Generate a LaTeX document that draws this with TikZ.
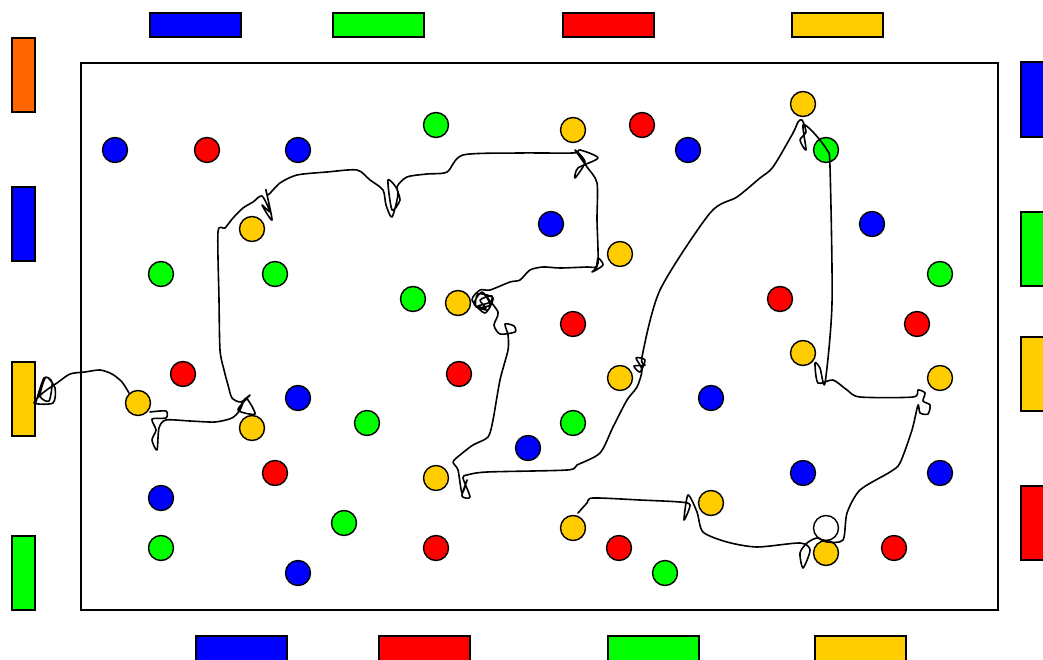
\documentclass[tikz,border=0pt]{standalone}
\usepackage{tikz}
\definecolor{ballyellow}{HTML}{FFCC00}
\definecolor{goalorange}{HTML}{FF6600}

\begin{document}
\begin{tikzpicture}[
  x=1pt, y=-1pt,
  ball/.style={circle, draw, line width=1.4pt, minimum size=25pt, inner sep=0pt},
  bar/.style={draw, line width=1.4pt},
  track/.style={line width=1.6pt, line join=round, line cap=round},
  arena/.style={draw, line width=1.8pt}
]
  \useasboundingbox (0,0) rectangle (1043,660);

  % arena
  \draw[arena] (81,63) rectangle (998,610);

  % goal bars
  \draw[bar, fill=blue]       (150,13) rectangle (241,37);
  \draw[bar, fill=green]      (333,13) rectangle (424,37);
  \draw[bar, fill=red]        (563,13) rectangle (654,37);
  \draw[bar, fill=ballyellow] (792,13) rectangle (883,37);
  \draw[bar, fill=blue]       (196,636) rectangle (287,664);
  \draw[bar, fill=red]        (379,636) rectangle (470,664);
  \draw[bar, fill=green]      (608,636) rectangle (699,664);
  \draw[bar, fill=ballyellow] (815,636) rectangle (906,664);
  \draw[bar, fill=goalorange] (12,38) rectangle (35,112);
  \draw[bar, fill=blue]       (12,187) rectangle (35,261);
  \draw[bar, fill=ballyellow] (12,362) rectangle (35,436);
  \draw[bar, fill=green]      (12,536) rectangle (35,610);
  \draw[bar, fill=blue]       (1021,62) rectangle (1048,137);
  \draw[bar, fill=green]      (1021,212) rectangle (1048,286);
  \draw[bar, fill=ballyellow] (1021,337) rectangle (1048,411);
  \draw[bar, fill=red]        (1021,486) rectangle (1048,560);

  % balls
  \foreach \x/\y/\c [count=\i] in {
      115/150/blue, 207/150/red, 298/150/blue, 436/125/green,
      573/130/ballyellow, 642/125/red, 688/150/blue, 803/104/ballyellow,
      252/229/ballyellow, 551/224/blue, 872/224/blue, 620/254/ballyellow,
      161/274/green, 275/274/green, 413/299/green, 458/303/ballyellow,
      573/324/red, 780/299/red, 940/274/green, 917/324/red,
      183/374/red, 459/374/red, 620/378/ballyellow, 803/353/ballyellow,
      940/378/ballyellow, 138/403/ballyellow, 298/398/blue, 252/428/ballyellow,
      367/423/green, 573/423/green, 711/398/blue, 275/473/red,
      528/448/blue, 436/478/ballyellow, 803/473/blue, 940/473/blue,
      161/498/blue, 711/503/ballyellow, 826/528/white, 344/523/green,
      573/528/ballyellow, 161/548/green, 436/548/red, 619/548/red,
      826/553/ballyellow, 894/548/red, 298/573/blue, 665/573/green}
    \node[ball, fill=\c] (b\i) at (\x,\y) {};
  \node[ball, fill=green] (bg) at (826,150) {};

  % robot track
  \draw[track] plot[smooth, tension=0.45] coordinates {
    (36,402) (44,378) (52,382) (49,401) (40,396) (46,377) (55,388) (53,403)
    (34,403) (44,392) (57,383) (70,374) (85,372) (100,370) (112,374)
    (122,382) (129,393)};
  \draw[track] plot[smooth, tension=0.45] coordinates {
    (150,412) (166,411) (166,418) (152,419) (156,430) (152,440) (157,450)
    (159,428) (166,420) (190,421) (215,422) (232,418) (240,410) (246,398)
    (255,414) (238,410) (250,395) (241,402) (232,398) (228,385) (224,370)
    (220,350) (219,300) (218,232) (225,228) (233,218) (243,208) (253,202)
    (262,196) (270,212) (262,205) (272,220) (266,190) (268,195) (280,183)
    (297,175) (327,172) (357,170) (370,180) (383,190) (386,205) (392,217)
    (398,192) (388,180) (392,210) (400,200) (397,187) (407,177) (427,174)
    (447,172) (463,155) (520,153) (573,153) (580,150) (598,158) (578,168)
    (575,178) (585,162) (575,150) (587,167) (597,183) (597,220) (598,263)
    (592,272) (603,265) (598,258) (596,267) (587,267) (560,268) (543,267)
    (530,270) (520,280) (510,282) (490,290) (480,290) (472,300) (485,313)
    (493,298) (478,294) (476,307) (490,305) (482,292) (474,304) (488,310)
    (492,296) (480,300) (486,308) (478,306) (490,302) (484,294)
    (498,312) (494,325) (500,334)
    (515,332) (514,326) (505,324) (508,335) (508,350) (500,380) (493,420)
    (488,437) (473,445) (460,455) (453,462) (458,470) (462,493) (467,480)
    (462,496) (470,497) (463,478) (467,475) (487,472) (567,470) (577,465)
    (600,453) (613,427) (627,400) (637,387) (642,370) (636,358) (645,360)
    (640,372) (634,366) (645,365) (642,357) (660,290) (710,213) (737,197)
    (760,178) (773,167) (793,133) (798,122) (802,120) (806,132) (800,140)
    (806,150) (803,125) (813,132) (827,150) (830,167) (832,303) (825,383)
    (820,368) (815,363) (818,383) (833,380) (847,390) (860,397) (913,397)
    (918,390) (925,393) (923,401) (930,405) (928,414) (920,413) (918,405)
    (912,430) (900,463) (890,472) (860,490) (847,513) (843,540) (827,542)
    (817,538) (807,543) (800,553) (803,568) (810,550) (800,543) (757,547)
    (727,542) (703,532) (697,512) (688,495) (684,520) (690,505) (680,502)
    (640,500) (593,498) (587,503) (578,513)};
\end{tikzpicture}
\end{document}
